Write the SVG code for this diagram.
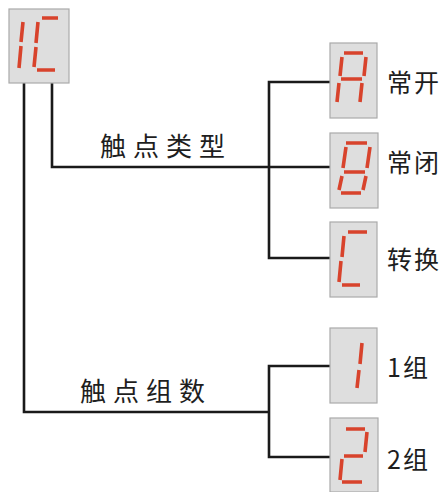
<svg xmlns="http://www.w3.org/2000/svg" width="446" height="492" viewBox="0 0 446 492">
<style>
.box{fill:#dedede;stroke:#aaaaaa;stroke-width:1.2}
.seg{stroke:#d8432c;stroke-width:3.6;stroke-linecap:butt;fill:none}
.wire{stroke:#1a1a1a;stroke-width:2.6;fill:none;stroke-linecap:square}
.lbl{font-family:"Noto Sans CJK SC","Noto Sans",sans-serif;fill:#1e1e1e;font-size:26px;letter-spacing:7px}
.opt{font-family:"Noto Sans CJK SC","Noto Sans",sans-serif;fill:#1e1e1e;font-size:25px;letter-spacing:2px}
</style>
<rect width="446" height="492" fill="#ffffff"/>
<g id="connectors">
<path class="wire" d="M24,84 V412 H269 M269,366 V457 M269,366 H330 M269,457 H330"/>
<path class="wire" d="M52,84 V167 H330 M269,82 V258 M269,82 H330 M269,258 H330"/>
</g>
<g id="node-1C">
<rect class="box" x="9" y="9" width="60" height="74"/>
<path class="seg" d="M23,22 L21,42 M21,46 L19,68 M42,18 H58 M38,22 L36,43 M36,47 L34,67 M37,70 H55"/>
</g>
<g id="node-A">
<rect class="box" x="330" y="43" width="47" height="75"/>
<path class="seg" d="M344,53 H363 M342,57 L340,76 M366,57 L364,76 M341,79 H362 M339,83 L337,102 M362,83 L360,102"/>
<text class="opt" x="387" y="92">常开</text>
</g>
<g id="node-B">
<rect class="box" x="330" y="133" width="48" height="75"/>
<path class="seg" d="M346,143 H367 M346,147 L343,168 M370,147 L367,168 M344,172 H365 M342,176 L339,190 M366,176 L363,190 M341,193 H361"/>
<text class="opt" x="387" y="172">常闭</text>
</g>
<g id="node-C">
<rect class="box" x="330" y="222" width="47" height="75"/>
<path class="seg" d="M348,232 H367 M344,236 L342,257 M341,261 L339,282 M342,285 H360"/>
<text class="opt" x="387" y="269">转换</text>
</g>
<g id="node-1">
<rect class="box" x="330" y="328" width="47" height="75"/>
<path class="seg" d="M362,343 L360,364 M359,370 L357,388"/>
<text class="opt" x="387" y="377">1组</text>
</g>
<g id="node-2">
<rect class="box" x="330" y="418" width="48" height="74"/>
<path class="seg" d="M346,429 H365 M367,432 L365,452 M344,456 H363 M342,459 L340,480 M342,482 H362"/>
<text class="opt" x="387" y="469">2组</text>
</g>
<g id="labels">
<text class="lbl" x="100" y="156">触点类型</text>
<text class="lbl" x="80" y="401">触点组数</text>
</g>
</svg>
